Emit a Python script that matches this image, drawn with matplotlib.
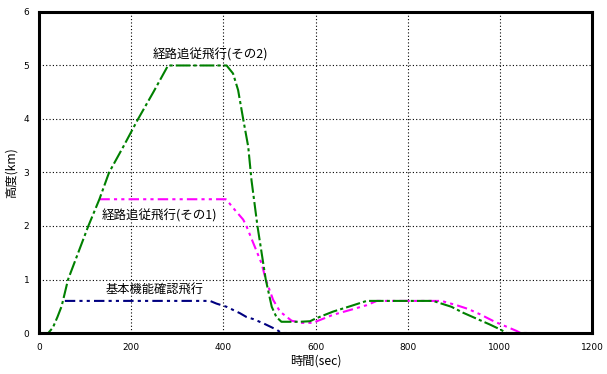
import matplotlib
matplotlib.use("Agg")
import matplotlib.pyplot as plt

plt.rcParams['font.family'] = ['Noto Sans CJK JP', 'DejaVu Sans']

# Series: 経路追従飛行(その2) (green)
t2 = [0, 20, 30, 40, 49, 63, 85, 107, 131, 152, 184, 215, 248, 280, 400, 407, 421, 432, 443, 454,
      461, 474, 492, 505, 515, 526, 566, 588, 600, 638, 675, 711, 855, 895, 920, 949, 978, 1000, 1015, 1058]
h2 = [0, 0, 0.1, 0.3, 0.5, 1.0, 1.5, 2.0, 2.5, 3.0, 3.5, 4.0, 4.5, 5.0, 5.0, 5.0, 4.85, 4.54, 4.0, 3.48,
      2.86, 2.0, 1.0, 0.49, 0.30, 0.21, 0.21, 0.22, 0.27, 0.40, 0.50, 0.60, 0.60, 0.49, 0.38, 0.27, 0.16, 0.07, 0.0, 0.0]

# Series: 経路追従飛行(その1) (magenta)
t1 = [131, 405, 407, 420, 443, 450, 465, 483, 492, 508, 523, 548, 570, 595, 600, 638, 675, 711, 733,
      873, 906, 931, 957, 989, 1014, 1036, 1045, 1083]
h1 = [2.5, 2.5, 2.49, 2.35, 2.12, 2.0, 1.68, 1.30, 1.0, 0.62, 0.40, 0.23, 0.19, 0.19, 0.21, 0.34, 0.43, 0.52, 0.60,
      0.60, 0.52, 0.45, 0.35, 0.21, 0.12, 0.04, 0.0, 0.0]

# Series: 基本機能確認飛行 (navy)
t0 = [56, 371, 385, 407, 436, 450, 465, 487, 516, 526, 566]
h0 = [0.6, 0.6, 0.55, 0.49, 0.37, 0.30, 0.26, 0.18, 0.06, 0.0, 0.0]

xticks = [0, 200, 400, 600, 800, 1000, 1200]
yticks = [0, 1, 2, 3, 4, 5, 6]

fig = plt.figure(figsize=(6.07, 3.74), dpi=100)
ax = fig.add_axes([0.0643, 0.1096, 0.9110, 0.8584])

ax.plot(t0, h0, color='#000080', lw=1.5, linestyle=(0, (5, 2, 1.5, 2, 1.5, 2)))
ax.plot(t1, h1, color='#ff00ff', lw=1.5, linestyle=(0, (5, 2, 1.5, 2, 1.5, 2)))
ax.plot(t2, h2, color='#008000', lw=1.5, linestyle=(0, (7, 1.5, 1.5, 1.5)))

ax.set_xlim(0, 1200)
ax.set_ylim(0, 6)
ax.set_xticks(xticks)
ax.set_yticks(yticks)
ax.set_xticklabels([str(v) for v in xticks], fontsize=6.5, family='DejaVu Sans')
ax.set_yticklabels([str(v) for v in yticks], fontsize=6.5, family='DejaVu Sans')
ax.tick_params(length=0, pad=7)
ax.grid(True, color='black', linestyle=(0, (1, 2)), linewidth=0.8)
ax.set_axisbelow(True)
for s in ax.spines.values():
    s.set_linewidth(2.2)
    s.set_color('black')

ax.set_xlabel('時間(sec)', fontsize=8.8, labelpad=2)
ax.set_ylabel('高度(km)', fontsize=8.8, labelpad=4)

ax.text(371, 5.2, '経路追従飛行(その2)', fontsize=9, ha='center', va='center')
ax.text(262, 2.19, '経路追従飛行(その1)', fontsize=9, ha='center', va='center')
ax.text(250, 0.82, '基本機能確認飛行', fontsize=8.8, ha='center', va='center')

fig.savefig('out.png', dpi=100)
